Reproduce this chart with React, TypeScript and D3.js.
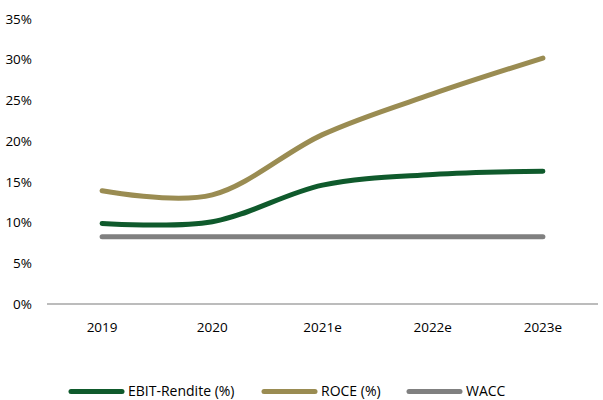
import React from "react";
import * as d3 from "d3";

const categories = ["2019", "2020", "2021e", "2022e", "2023e"];
const ebitValues = [9.9, 10.1, 14.6, 15.9, 16.3];
const roceValues = [13.9, 13.4, 20.8, 25.8, 30.2];
const waccValues = [8.25, 8.25, 8.25, 8.25, 8.25];
const yTicks = [0, 5, 10, 15, 20, 25, 30, 35];

const seriesNames = ["EBIT-Rendite (%)", "ROCE (%)", "WACC"];
const seriesColors = ["#0f5a2c", "#9a8c52", "#808080"];

const W = 603;
const H = 400;
const FONT = "'Open Sans', sans-serif";

export default function App() {
  const x = d3.scaleBand<string>().domain(categories).range([47, 598]).padding(0);
  const y = d3.scaleLinear().domain([0, 35]).range([304, 19]);
  const cx = (c: string) => (x(c) as number) + x.bandwidth() / 2;
  const line = d3
    .line<number>()
    .x((_, i) => cx(categories[i]))
    .y((d) => y(d))
    .curve(d3.curveCatmullRom.alpha(0));
  const data = [ebitValues, roceValues, waccValues];
  const legendX = [69, 262, 407];
  return (
    <svg
      width={W}
      height={H}
      style={{ position: "absolute", left: 0, top: 0, background: "#fff" }}
      fontFamily={FONT}
    >
      {yTicks.map((t) => (
        <text key={t} x={32} y={y(t)} dy="0.35em" textAnchor="end" fontSize={13.5} fill="#000">
          {t}%
        </text>
      ))}
      <line x1={47} x2={598} y1={y(0)} y2={y(0)} stroke="#a6a6a6" strokeWidth={1.3} />
      {categories.map((c) => (
        <text key={c} x={cx(c)} y={331.5} textAnchor="middle" fontSize={13.5} fill="#000">
          {c}
        </text>
      ))}
      {[2, 0, 1].map((i) => (
        <path
          key={i}
          d={line(data[i]) || ""}
          fill="none"
          stroke={seriesColors[i]}
          strokeWidth={5}
          strokeLinecap="round"
          strokeLinejoin="round"
        />
      ))}
      {seriesNames.map((n, i) => (
        <g key={n}>
          <line
            x1={legendX[i] + 2}
            x2={legendX[i] + 53}
            y1={391.5}
            y2={391.5}
            stroke={seriesColors[i]}
            strokeWidth={5}
            strokeLinecap="round"
          />
          <text x={legendX[i] + 59} y={391} dy="0.35em" fontSize={14} fill="#000">
            {n}
          </text>
        </g>
      ))}
    </svg>
  );
}
